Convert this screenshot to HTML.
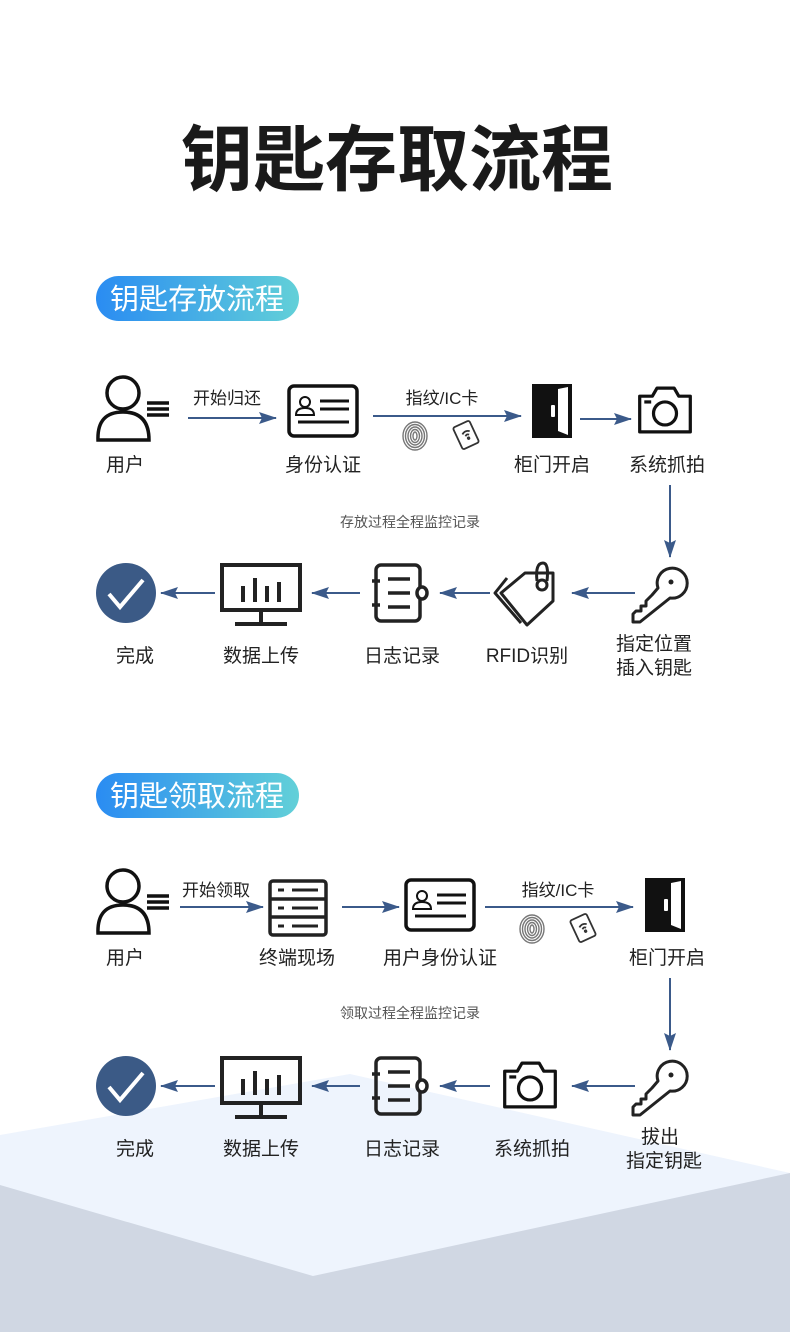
<!DOCTYPE html>
<html><head><meta charset="utf-8">
<style>
html,body{margin:0;padding:0;width:790px;height:1332px;overflow:hidden;background:#fff;}
svg{display:block}
text{font-family:"Liberation Sans","Noto Sans CJK SC",sans-serif;fill:#222;}
</style></head><body>
<svg width="790" height="1332" viewBox="0 0 790 1332" xmlns="http://www.w3.org/2000/svg">
<defs>
<linearGradient id="pg" x1="0" x2="1" y1="0" y2="0">
<stop offset="0" stop-color="#2a8cf2"/><stop offset="1" stop-color="#62d0d8"/>
</linearGradient>
<marker id="ah2" markerWidth="18" markerHeight="12" refX="17" refY="6" orient="auto" markerUnits="userSpaceOnUse">
<path d="M0,0 L18,6 L0,12 L3,6 Z" fill="#3b5a8a"/></marker>
<g id="user" fill="none" stroke="#111" stroke-width="3.5">
<circle cx="-2" cy="-17" r="16"/>
<path d="M-27 30 Q-28 2 -2 2 Q24 2 24 30 Z"/>
<path d="M22 -7 H44 M22 -1 H44 M22 5 H44"/></g>
<g id="idcard" fill="none" stroke="#111" stroke-width="3.5">
<rect x="-34" y="-25" width="68" height="50" rx="5"/>
<circle cx="-18" cy="-9" r="5" stroke-width="2"/>
<path d="M-27 4 Q-27 -3 -18 -3 Q-9 -3 -9 4 Z" stroke-width="2"/>
<path d="M-3 -10 H26 M-3 -2 H26 M-25 11 H26" stroke-width="3"/></g>
<g id="door">
<path d="M-20 -27 H20 V27 H-20 Z" fill="#111"/>
<path d="M6 -22 L16 -24 V24 L6 20 Z" fill="#fff"/>
<rect x="-1" y="-6" width="4" height="12" rx="1" fill="#fff"/></g>
<g id="camera" fill="none" stroke="#111" stroke-width="2.8" transform="scale(1.15)">
<path d="M-22 -12 H-11 L-7 -19 H8 L12 -12 H22 V19 H-22 Z" stroke-linejoin="round"/>
<circle cx="0" cy="3" r="10"/><path d="M-18 -7 H-12"/></g>
<g id="check"><circle r="30" fill="#3b5a86"/>
<path d="M-17 1 L-6 14 L17 -13" fill="none" stroke="#fff" stroke-width="4"/></g>
<g id="monitor" fill="none" stroke="#222" stroke-width="4">
<rect x="-39" y="-27" width="78" height="45"/>
<path d="M0 18 V30 M-26 32 H26 M-18 -6 V10 M-6 -14 V10 M6 -6 V10 M18 -10 V10"/></g>
<g id="note" fill="none" stroke="#222" stroke-width="3.5">
<rect x="-24" y="-28" width="44" height="56" rx="5"/>
<path d="M-28 -12 H-20 M-28 12 H-20 M-12 -14 H10 M-12 0 H10 M-12 14 H10"/>
<ellipse cx="22" cy="0" rx="5" ry="6" fill="#fff"/></g>
<g id="tag" fill="none" stroke="#222" stroke-width="3" stroke-linejoin="round">
<path d="M-20 -17 L-32 -2 L-6 28"/>
<path d="M-26 -2 L-2 -22 H26 V6 L0 30 Z"/>
<path d="M10 -14 Q8 -32 16 -32 Q22 -32 20 -14"/>
<circle cx="15" cy="-10" r="5" fill="#fff"/></g>
<g id="key" fill="none" stroke="#222" stroke-width="3" stroke-linejoin="round">
<path d="M-2 -4 A15 15 0 1 1 10 6 L-20 30 H-27 V22 L-24 19 H-19 V14 H-14 V9 L-8 3 Z"/>
<circle cx="11" cy="-10" r="2.5" fill="#222" stroke="none"/></g>
<g id="fp" fill="none" stroke="#777" stroke-width="1.4">
<ellipse rx="12" ry="14"/><ellipse rx="9.5" ry="11.5"/><ellipse rx="7" ry="9"/><ellipse rx="4.5" ry="6.5"/><ellipse rx="2" ry="4"/></g>
<g id="card" fill="none" stroke="#333" stroke-width="1.8">
<rect x="-9" y="-12" width="18" height="24" rx="2" transform="rotate(-25)"/>
<path d="M-3 -2 Q1 -5 5 -2 M-1 1 Q1 -1 3 1" transform="rotate(-25)"/><circle cx="1" cy="4" r="0.8" transform="rotate(-25)"/></g>
<g id="terminal" fill="none" stroke="#222" stroke-width="3.5">
<rect x="-28" y="-27" width="56" height="54" rx="3"/>
<path d="M-28 -9 H28 M-28 9 H28"/>
<path d="M-20 -18 H-14 M-6 -18 H20 M-20 0 H-14 M-6 0 H20 M-20 18 H-14 M-6 18 H20" stroke-width="3"/></g>
</defs>

<polygon points="0,1135 350,1074 790,1173 790,1332 0,1332" fill="#eef4fd"/>
<polygon points="0,1185 313,1276 790,1173 790,1332 0,1332" fill="#d0d7e3"/>

<text x="397" y="185" font-size="72" font-weight="bold" text-anchor="middle" style="fill:#1a1a1a">钥匙存取流程</text>

<rect x="96" y="276" width="203" height="45" rx="22.5" fill="url(#pg)"/>
<text x="197" y="309" font-size="29" text-anchor="middle" style="fill:#fff">钥匙存放流程</text>

<use href="#user" x="125" y="410"/>
<use href="#idcard" x="323" y="411"/>
<use href="#door" x="552" y="411"/>
<use href="#camera" x="665" y="410"/>
<use href="#fp" x="415" y="436"/>
<use href="#card" x="466" y="435"/>

<g stroke="#3b5a8a" stroke-width="2">
<line x1="188" y1="418" x2="276" y2="418" marker-end="url(#ah2)"/>
<line x1="373" y1="416" x2="521" y2="416" marker-end="url(#ah2)"/>
<line x1="580" y1="419" x2="631" y2="419" marker-end="url(#ah2)"/>
<line x1="670" y1="485" x2="670" y2="557" marker-end="url(#ah2)"/>
<line x1="215" y1="593" x2="161" y2="593" marker-end="url(#ah2)"/>
<line x1="360" y1="593" x2="312" y2="593" marker-end="url(#ah2)"/>
<line x1="490" y1="593" x2="440" y2="593" marker-end="url(#ah2)"/>
<line x1="635" y1="593" x2="572" y2="593" marker-end="url(#ah2)"/>
</g>
<g font-size="17">
<text x="227" y="404" text-anchor="middle">开始归还</text>
<text x="442" y="404" text-anchor="middle">指纹/IC卡</text>
</g>
<g font-size="19" text-anchor="middle">
<text x="125" y="471">用户</text>
<text x="323" y="471">身份认证</text>
<text x="552" y="471">柜门开启</text>
<text x="667" y="471">系统抓拍</text>
<text x="135" y="662">完成</text>
<text x="261" y="662">数据上传</text>
<text x="402" y="662">日志记录</text>
<text x="527" y="662">RFID识别</text>
<text x="654" y="650">指定位置</text>
<text x="654" y="674">插入钥匙</text>
</g>
<text x="410" y="527" font-size="14" text-anchor="middle" style="fill:#555">存放过程全程监控记录</text>

<use href="#check" x="126" y="593"/>
<use href="#monitor" x="261" y="592"/>
<use href="#note" x="400" y="593"/>
<use href="#tag" x="527" y="595"/>
<use href="#key" x="660" y="592"/>

<rect x="96" y="773" width="203" height="45" rx="22.5" fill="url(#pg)"/>
<text x="197" y="806" font-size="29" text-anchor="middle" style="fill:#fff">钥匙领取流程</text>

<use href="#user" x="125" y="903"/>
<use href="#terminal" x="298" y="908"/>
<use href="#idcard" x="440" y="905"/>
<use href="#door" x="665" y="905"/>
<use href="#fp" x="532" y="929"/>
<use href="#card" x="583" y="928"/>

<g stroke="#3b5a8a" stroke-width="2">
<line x1="180" y1="907" x2="263" y2="907" marker-end="url(#ah2)"/>
<line x1="342" y1="907" x2="399" y2="907" marker-end="url(#ah2)"/>
<line x1="485" y1="907" x2="633" y2="907" marker-end="url(#ah2)"/>
<line x1="670" y1="978" x2="670" y2="1050" marker-end="url(#ah2)"/>
<line x1="215" y1="1086" x2="161" y2="1086" marker-end="url(#ah2)"/>
<line x1="360" y1="1086" x2="312" y2="1086" marker-end="url(#ah2)"/>
<line x1="490" y1="1086" x2="440" y2="1086" marker-end="url(#ah2)"/>
<line x1="635" y1="1086" x2="572" y2="1086" marker-end="url(#ah2)"/>
</g>
<g font-size="17">
<text x="216" y="896" text-anchor="middle">开始领取</text>
<text x="558" y="896" text-anchor="middle">指纹/IC卡</text>
</g>
<g font-size="19" text-anchor="middle">
<text x="125" y="964">用户</text>
<text x="297" y="964">终端现场</text>
<text x="440" y="964">用户身份认证</text>
<text x="667" y="964">柜门开启</text>
<text x="135" y="1155">完成</text>
<text x="261" y="1155">数据上传</text>
<text x="402" y="1155">日志记录</text>
<text x="532" y="1155">系统抓拍</text>
<text x="660" y="1143">拔出</text>
<text x="664" y="1167">指定钥匙</text>
</g>
<text x="410" y="1018" font-size="14" text-anchor="middle" style="fill:#555">领取过程全程监控记录</text>

<use href="#check" x="126" y="1086"/>
<use href="#monitor" x="261" y="1085"/>
<use href="#note" x="400" y="1086"/>
<use href="#camera" x="530" y="1085"/>
<use href="#key" x="660" y="1085"/>
</svg>
</body></html>
